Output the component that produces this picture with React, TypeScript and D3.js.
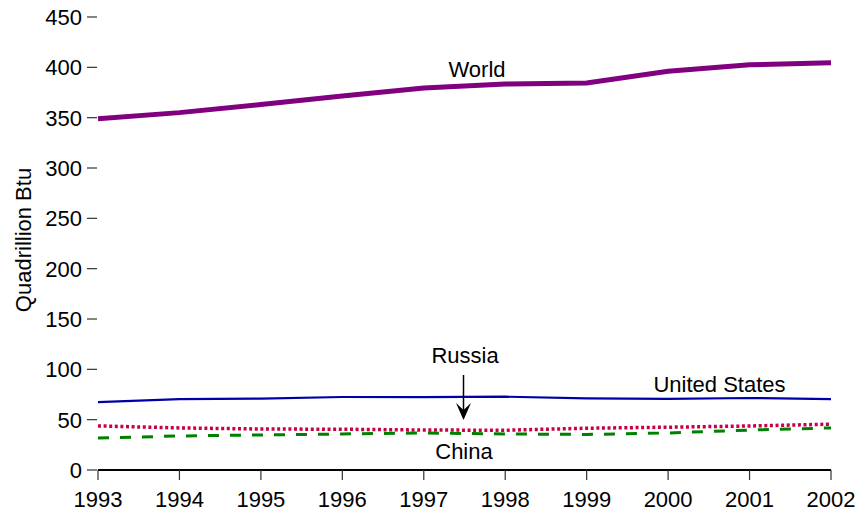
import React from "react";
import * as d3 from "d3";

const years = [1993, 1994, 1995, 1996, 1997, 1998, 1999, 2000, 2001, 2002];
const world = [349, 355, 363, 371.5, 379.5, 383.5, 384.5, 396, 402.5, 404.5];
const unitedStates = [67.5, 70.5, 71, 72.5, 72.3, 72.8, 71.2, 70.7, 71.5, 70.5];
const russia = [43.8, 41.8, 40.7, 40.5, 39.7, 39.5, 41.5, 42.5, 43.7, 45.5];
const china = [31.8, 33.8, 34.8, 35.8, 36.8, 35.8, 35.3, 36.8, 39.7, 41.8];
const yTicks = [0, 50, 100, 150, 200, 250, 300, 350, 400, 450];

const W = 860;
const H = 513;
const left = 98;
const right = 831;
const top = 17;
const bottom = 470;

export default function App() {
  const x = d3.scaleLinear().domain([1993, 2002]).range([left, right]);
  const y = d3.scaleLinear().domain([0, 450]).range([bottom, top]);
  const line = (vals: number[]) =>
    d3
      .line<number>()
      .x((_, i) => x(years[i]))
      .y((v) => y(v))(vals) as string;
  const font = "'Liberation Sans', Arial, sans-serif";
  const fs = 22;

  return (
    <svg
      width={W}
      height={H}
      style={{ position: "absolute", left: 0, top: 0, background: "#fff" }}
      fontFamily={font}
    >
      {/* Y ticks */}
      {yTicks.map((t) => (
        <g key={t}>
          <line x1={87} x2={97} y1={y(t)} y2={y(t)} stroke="#333" strokeWidth={1.2} />
          <text x={82} y={y(t) + 8} textAnchor="end" fontSize={fs} fill="#000">
            {t}
          </text>
        </g>
      ))}
      <text
        transform={`translate(31, 240) rotate(-90)`}
        textAnchor="middle"
        fontSize={fs}
        fill="#000"
      >
        Quadrillion Btu
      </text>

      {/* X axis */}
      <line x1={left} x2={right} y1={bottom} y2={bottom} stroke="#000" strokeWidth={2} />
      {years.map((yr) => (
        <g key={yr}>
          <line x1={x(yr)} x2={x(yr)} y1={bottom} y2={bottom + 10} stroke="#333" strokeWidth={1.2} />
          <text x={x(yr)} y={507} textAnchor="middle" fontSize={fs} fill="#000">
            {yr}
          </text>
        </g>
      ))}

      {/* Lines */}
      <path d={line(china)} fill="none" stroke="#008000" strokeWidth={3} strokeDasharray="11,11" />
      <path d={line(russia)} fill="none" stroke="#c8004a" strokeWidth={3.5} strokeDasharray="3,2.6" />
      <path d={line(unitedStates)} fill="none" stroke="#0000a8" strokeWidth={2.2} />
      <path d={line(world)} fill="none" stroke="#800080" strokeWidth={5} />

      {/* Labels */}
      <text x={477} y={77} textAnchor="middle" fontSize={fs} fill="#000">World</text>
      <text x={719.5} y={392} textAnchor="middle" fontSize={fs} fill="#000">United States</text>
      <text x={465} y={363} textAnchor="middle" fontSize={fs} fill="#000">Russia</text>
      <text x={464} y={459} textAnchor="middle" fontSize={fs} fill="#000">China</text>

      {/* Arrow */}
      <line x1={463.5} x2={463.5} y1={375} y2={418} stroke="#000" strokeWidth={1.5} />
      <path d="M456,403 L463.5,420 L471,403 L463.5,410 Z" fill="#000" />
    </svg>
  );
}
